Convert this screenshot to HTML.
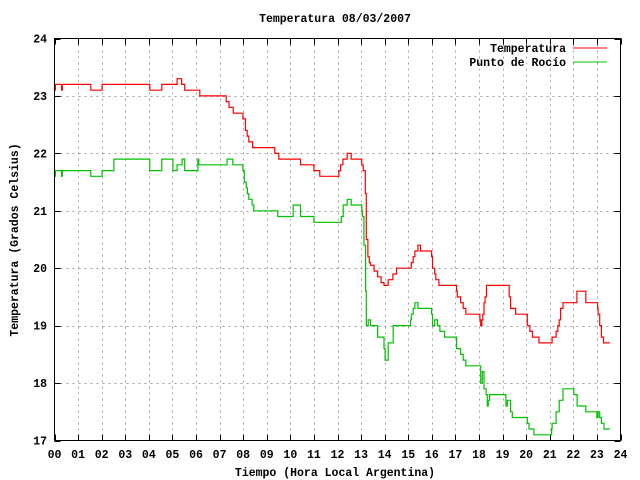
<!DOCTYPE html>
<html><head><meta charset="utf-8"><style>
html,body{margin:0;padding:0;background:#fff}
svg{display:block}
text{font-family:"Liberation Mono",monospace;font-size:11.5px;font-weight:bold;fill:#000}
</style></head><body>
<svg id="chart" width="640" height="480" xmlns="http://www.w3.org/2000/svg">
<rect x="0" y="0" width="640" height="480" fill="#fff"/>
<g id="grid"></g>
<g id="ticks"></g>
<g id="series"></g>
<rect x="54.5" y="38.5" width="566" height="402" fill="none" stroke="#000" stroke-width="1"/>
<text x="335" y="22" text-anchor="middle">Temperatura 08/03/2007</text>
<text x="335" y="476" text-anchor="middle">Tiempo (Hora Local Argentina)</text>
<text x="18" y="240" text-anchor="middle" transform="rotate(-90 18 240)">Temperatura (Grados Celsius)</text>
<g>
<text x="566" y="52" text-anchor="end">Temperatura</text>
<line x1="573" y1="48" x2="607" y2="48" stroke="#ff0000" stroke-width="1"/>
<text x="566" y="66" text-anchor="end">Punto de Rocío</text>
<line x1="573" y1="62" x2="607" y2="62" stroke="#00c000" stroke-width="1"/>
</g>
</svg>
<script>
const xTicks=["00","01","02","03","04","05","06","07","08","09","10","11","12","13","14","15","16","17","18","19","20","21","22","23","24"];
const yTicks=[17,18,19,20,21,22,23,24];
const tempHours=[0,0.04,0.3,0.33,1.54,2.02,4.04,4.55,5.2,5.39,5.52,6.16,7.28,7.4,7.58,7.99,8.1,8.17,8.24,8.4,8.5,9.34,9.51,10.43,11.0,11.25,12.06,12.13,12.23,12.41,12.58,13.03,13.09,13.18,13.22,13.29,13.35,13.4,13.55,13.7,13.85,13.97,14.15,14.35,14.5,15.1,15.13,15.21,15.28,15.41,15.52,15.99,16.03,16.12,16.17,16.3,16.54,17.05,17.08,17.22,17.33,17.44,17.56,18.04,18.07,18.12,18.16,18.21,18.26,18.32,18.49,19.28,19.34,19.37,19.55,20.05,20.16,20.27,20.54,21.08,21.1,21.27,21.34,21.4,21.46,21.56,22.15,22.53,23.03,23.05,23.12,23.19,23.28,23.39,23.55];
const tempValues=[23.1,23.2,23.1,23.2,23.1,23.2,23.1,23.2,23.3,23.2,23.1,23.0,22.9,22.8,22.7,22.6,22.4,22.3,22.2,22.1,22.1,22.0,21.9,21.8,21.7,21.6,21.7,21.8,21.9,22.0,21.9,21.8,21.7,21.3,20.5,20.2,20.1,20.05,19.95,19.85,19.75,19.7,19.8,19.9,20.0,20.0,20.1,20.2,20.3,20.4,20.3,20.2,20.0,19.9,19.8,19.7,19.7,19.6,19.5,19.4,19.3,19.2,19.2,19.1,19.0,19.1,19.2,19.4,19.5,19.7,19.7,19.5,19.3,19.3,19.2,19.0,18.9,18.8,18.7,18.7,18.8,18.9,19.0,19.1,19.3,19.4,19.6,19.4,19.3,19.2,19.0,18.8,18.7,18.7,18.7];
const dewHours=[0,0.04,0.3,0.33,1.54,2.02,2.52,4.04,4.55,5.02,5.2,5.41,5.52,6.08,6.12,7.32,7.56,7.99,8.05,8.13,8.18,8.24,8.38,8.45,9.47,10.12,10.43,11.0,12.16,12.24,12.41,12.58,13.03,13.06,13.12,13.19,13.22,13.3,13.4,13.7,13.97,14.02,14.15,14.36,15.1,15.13,15.21,15.28,15.41,15.52,15.99,16.03,16.12,16.24,16.34,16.54,17.05,17.22,17.33,17.44,17.56,18.07,18.14,18.21,18.3,18.35,18.39,18.45,18.52,19.14,19.2,19.34,19.41,19.6,20.05,20.12,20.33,20.54,21.08,21.1,21.27,21.4,21.56,22.02,22.16,22.38,22.53,23.0,23.05,23.12,23.19,23.3,23.36,23.47,23.55];
const dewValues=[21.6,21.7,21.6,21.7,21.6,21.7,21.9,21.7,21.9,21.7,21.8,21.9,21.7,21.9,21.8,21.9,21.8,21.7,21.5,21.4,21.3,21.2,21.1,21.0,20.9,21.1,20.9,20.8,20.9,21.1,21.2,21.1,21.0,20.9,20.4,19.6,19.0,19.1,19.0,18.8,18.6,18.4,18.7,19.0,19.1,19.2,19.3,19.4,19.3,19.3,19.2,19.0,19.1,19.0,18.9,18.8,18.6,18.5,18.4,18.3,18.3,18.0,18.2,17.9,17.8,17.6,17.7,17.8,17.8,17.6,17.7,17.5,17.4,17.4,17.3,17.2,17.1,17.1,17.2,17.3,17.5,17.7,17.9,17.8,17.6,17.6,17.5,17.4,17.5,17.4,17.3,17.2,17.2,17.2,17.2];
const X0=54.5,X1=620.5,Y0=440.5,Y1=38.5,XMIN=0,XMAX=24,YMIN=17,YMAX=24;
function xs(h){return X0+(h-XMIN)/(XMAX-XMIN)*(X1-X0);}
function ys(v){return Y0-(v-YMIN)/(YMAX-YMIN)*(Y0-Y1);}
const NS="http://www.w3.org/2000/svg";
const grid=document.getElementById('grid'),ticks=document.getElementById('ticks'),series=document.getElementById('series');
function mk(tag,attrs,parent){const e=document.createElementNS(NS,tag);for(const k in attrs)e.setAttribute(k,attrs[k]);parent.appendChild(e);return e;}
xTicks.forEach((lab,i)=>{
  const x=Math.round(xs(i))+0.5;
  if(i>0&&i<xTicks.length-1){
    const g=mk('line',{x1:x,y1:Y1,x2:x,y2:Y0,stroke:'#a0a0a0','stroke-dasharray':'2,4'},grid);
    
    
  }
  const t=mk('line',{x1:x,y1:Y0,x2:x,y2:Y0-6,stroke:'#000'},ticks);
  
  
  const t2=mk('line',{x1:x,y1:Y1,x2:x,y2:Y1+6,stroke:'#000'},ticks);
  
  
  const tx=mk('text',{x:xs(i),y:458,'text-anchor':'middle'},ticks);
  tx.textContent=lab;
  
  
});
yTicks.forEach(v=>{
  const y=Math.round(ys(v))+0.5;
  if(v>YMIN&&v<YMAX){
    const g=mk('line',{x1:X0,y1:y,x2:X1,y2:y,stroke:'#a0a0a0','stroke-dasharray':'2,4'},grid);
    
    
  }
  const t=mk('line',{x1:X0,y1:y,x2:X0+6,y2:y,stroke:'#000'},ticks);
  
  
  const t2=mk('line',{x1:X1,y1:y,x2:X1-6,y2:y,stroke:'#000'},ticks);
  
  
  const tx=mk('text',{x:47,y:ys(v)+4,'text-anchor':'end'},ticks);
  tx.textContent=String(v);
  
  
});
function stepPath(hs,vs){
  let d='M'+xs(hs[0]).toFixed(1)+' '+ys(vs[0]).toFixed(1);
  for(let i=1;i<hs.length;i++){d+=' H'+xs(hs[i]).toFixed(1)+' V'+ys(vs[i]).toFixed(1);}
  return d;
}
const pt=mk('path',{d:stepPath(tempHours,tempValues),fill:'none',stroke:'#ff0000','stroke-width':1.2},series);


const pd=mk('path',{d:stepPath(dewHours,dewValues),fill:'none',stroke:'#00c000','stroke-width':1.2},series);


</script>
</body></html>
